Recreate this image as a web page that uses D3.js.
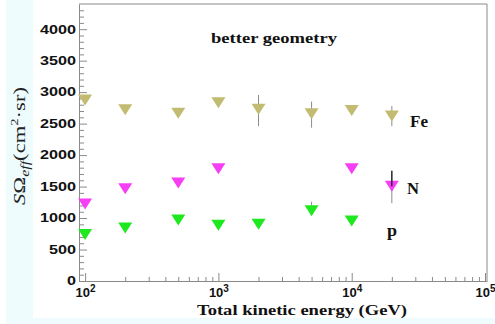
<!DOCTYPE html>
<html lang="en">
<head>
    <meta charset="UTF-8">
    <title>Effective geometry factor</title>
    <script src="https://cdn.jsdelivr.net/npm/d3@7"></script>
    <style>
        body { margin: 0; background: #ffffff; }
        svg { display: block; }
    </style>
</head>
<body>
    <div id="chart-space"></div>

    <script>
        // values
        var feEnergy = [100, 200, 500, 1000, 2000, 5000, 10000, 20000];
        var feValue  = [2875, 2720, 2665, 2830, 2730, 2655, 2710, 2620];
        var feErrEnergy = [2000, 5000, 20000];
        var feErrLow    = [2460, 2435, 2460];
        var feErrHigh   = [2955, 2850, 2780];

        var nEnergy = [100, 200, 500, 1000, 10000, 20000];
        var nValue  = [1225, 1465, 1555, 1785, 1785, 1505];
        var nErrEnergy = [20000];
        var nErrLow    = [1235];
        var nErrHigh   = [1750];

        var pEnergy = [100, 200, 500, 1000, 2000, 5000, 10000];
        var pValue  = [740, 840, 970, 885, 900, 1115, 955];
        var pErrEnergy = [5000];
        var pErrLow    = [1045];
        var pErrHigh   = [1260];

        var yTicks = [0, 500, 1000, 1500, 2000, 2500, 3000, 3500, 4000];
        var xTicks = [100, 1000, 10000, 100000];
        var xTickExp = ["2", "3", "4", "5"];

        var width = 495;
        var height = 324;
        var frame = {left: 79, right: 487, top: 4, bottom: 281};

        var svg = d3.select("#chart-space")
            .append("svg")
            .attr("width", width)
            .attr("height", height);

        // page background strips
        svg.append("rect").attr("x", 0).attr("y", 0).attr("width", width).attr("height", height).attr("fill", "#ffffff");
        svg.append("rect").attr("x", 6).attr("y", 0).attr("width", 27).attr("height", height).attr("fill", "#eefcfe");
        svg.append("rect").attr("x", 6).attr("y", 318).attr("width", width - 6).attr("height", 6).attr("fill", "#eefcfe");

        var xScale = d3.scaleLog()
            .domain([90, 103500])
            .range([frame.left, frame.right]);

        var yScale = d3.scaleLinear()
            .domain([0, 4400])
            .range([frame.bottom, frame.top]);

        // minor ticks
        var yMinor = d3.range(100, 4400, 100).filter(function(v) { return v % 500 !== 0; });
        var xMinor = [];
        [100, 1000, 10000].forEach(function(dec) {
            for (var k = 2; k <= 9; k++) xMinor.push(dec * k);
        });

        svg.append("g")
            .attr("transform", "translate(" + frame.left + ",0)")
            .call(d3.axisLeft(yScale).tickValues(yMinor).tickSizeInner(-5).tickSizeOuter(0).tickFormat(""))
            .call(function(g) { g.select(".domain").remove(); g.selectAll("line").attr("stroke", "#8a8a8a"); });

        svg.append("g")
            .attr("transform", "translate(0," + frame.bottom + ")")
            .call(d3.axisBottom(xScale).tickValues(xMinor).tickSizeInner(-4).tickSizeOuter(0).tickFormat(""))
            .call(function(g) { g.select(".domain").remove(); g.selectAll("line").attr("stroke", "#8a8a8a"); });

        // main axes
        var yAxis = svg.append("g")
            .attr("transform", "translate(" + frame.left + ",0)")
            .call(d3.axisLeft(yScale).tickValues(yTicks).tickSizeInner(-8).tickSizeOuter(0).tickPadding(3).tickFormat(d3.format("d")));
        yAxis.select(".domain").attr("stroke", "#8a8a8a");
        yAxis.selectAll("line").attr("stroke", "#8a8a8a");
        yAxis.selectAll("text")
            .attr("font-family", "Liberation Sans, Arial, sans-serif")
            .attr("font-weight", "bold")
            .attr("font-size", 12)
            .attr("fill", "#111")
            .attr("textLength", function(d) { return String(d).length * 9; })
            .attr("lengthAdjust", "spacingAndGlyphs");

        var xAxis = svg.append("g")
            .attr("transform", "translate(0," + frame.bottom + ")")
            .call(d3.axisBottom(xScale).tickValues(xTicks).tickSizeInner(-8).tickSizeOuter(0).tickPadding(7).tickFormat(""));
        xAxis.select(".domain").attr("stroke", "#8a8a8a");
        xAxis.selectAll("line").attr("stroke", "#8a8a8a");
        xAxis.selectAll("text")
            .attr("font-family", "Liberation Sans, Arial, sans-serif")
            .attr("font-weight", "bold")
            .attr("font-size", 13)
            .attr("fill", "#111")
            .each(function(d, i) {
                var t = d3.select(this);
                t.append("tspan").text("10");
                t.append("tspan").attr("font-size", 10).attr("dy", "-0.5em").text(xTickExp[i]);
            });

        // frame top and right
        svg.append("line").attr("x1", frame.left).attr("x2", frame.right).attr("y1", frame.top).attr("y2", frame.top).attr("stroke", "#8a8a8a");
        svg.append("line").attr("x1", frame.right).attr("x2", frame.right).attr("y1", frame.top).attr("y2", frame.bottom).attr("stroke", "#8a8a8a");

        // error bars
        function drawErrors(es, lo, hi, color) {
            svg.append("g").selectAll("line")
                .data(es)
                .join("line")
                .attr("x1", function(d) { return xScale(d); })
                .attr("x2", function(d) { return xScale(d); })
                .attr("y1", function(d, i) { return yScale(lo[i]); })
                .attr("y2", function(d, i) { return yScale(hi[i]); })
                .attr("stroke", color)
                .attr("stroke-width", 1);
        }
        drawErrors(feErrEnergy, feErrLow, feErrHigh, "#8c8c8c");
        drawErrors(nErrEnergy, nErrLow, nErrHigh, "#8c8c8c");
        drawErrors(pErrEnergy, pErrLow, pErrHigh, "#8c8c8c");

        // triangle-down markers
        var tri = "M-7,-5.5L7,-5.5L0,5.5Z";
        function drawSeries(es, vs, color) {
            svg.append("g").selectAll("path")
                .data(es)
                .join("path")
                .attr("d", tri)
                .attr("transform", function(d, i) { return "translate(" + xScale(d) + "," + yScale(vs[i]) + ")"; })
                .attr("fill", color);
        }
        drawSeries(feEnergy, feValue, "#c2bb72");
        drawSeries(nEnergy, nValue, "#f53ff5");
        drawSeries(pEnergy, pValue, "#1ee81e");

        // upper part of the N error bar is drawn black over the marker
        svg.append("g").selectAll("line")
            .data(nErrEnergy)
            .join("line")
            .attr("x1", function(d) { return xScale(d); })
            .attr("x2", function(d) { return xScale(d); })
            .attr("y1", function(d, i) { return yScale(nErrHigh[i]); })
            .attr("y2", function(d, i) { return yScale(nValue[nEnergy.indexOf(d)]); })
            .attr("stroke", "#111")
            .attr("stroke-width", 1.2);

        // annotations
        var serif = "Liberation Serif, Times New Roman, serif";
        function label(txt, x, y, size, len) {
            svg.append("text")
                .attr("x", x).attr("y", y)
                .attr("font-family", serif)
                .attr("font-weight", "bold")
                .attr("font-size", size)
                .attr("fill", "#111")
                .attr("textLength", len)
                .attr("lengthAdjust", "spacingAndGlyphs")
                .text(txt);
        }
        label("better geometry", 211, 43, 15, 126);
        label("Fe", 410, 127, 16, 18);
        label("N", 407, 194, 16, 12);
        label("p", 387, 236, 16, 10);
        label("Total kinetic energy (GeV)", 197, 315, 15, 210);

        // y axis title
        var yt = svg.append("text")
            .attr("transform", "translate(25,146) rotate(-90)")
            .attr("text-anchor", "middle")
            .attr("font-family", serif)
            .attr("font-size", 17)
            .attr("fill", "#222")
            .attr("textLength", 118)
            .attr("lengthAdjust", "spacingAndGlyphs");
        yt.append("tspan").attr("font-style", "italic").text("S");
        yt.append("tspan").text("Ω");
        yt.append("tspan").attr("font-style", "italic").attr("font-size", 12).attr("dy", 4).text("eff");
        yt.append("tspan").attr("dy", -4).text("(cm");
        yt.append("tspan").attr("font-size", 11).attr("dy", -7).text("2");
        yt.append("tspan").attr("dy", 7).text("·sr)");
    </script>
</body>
</html>
